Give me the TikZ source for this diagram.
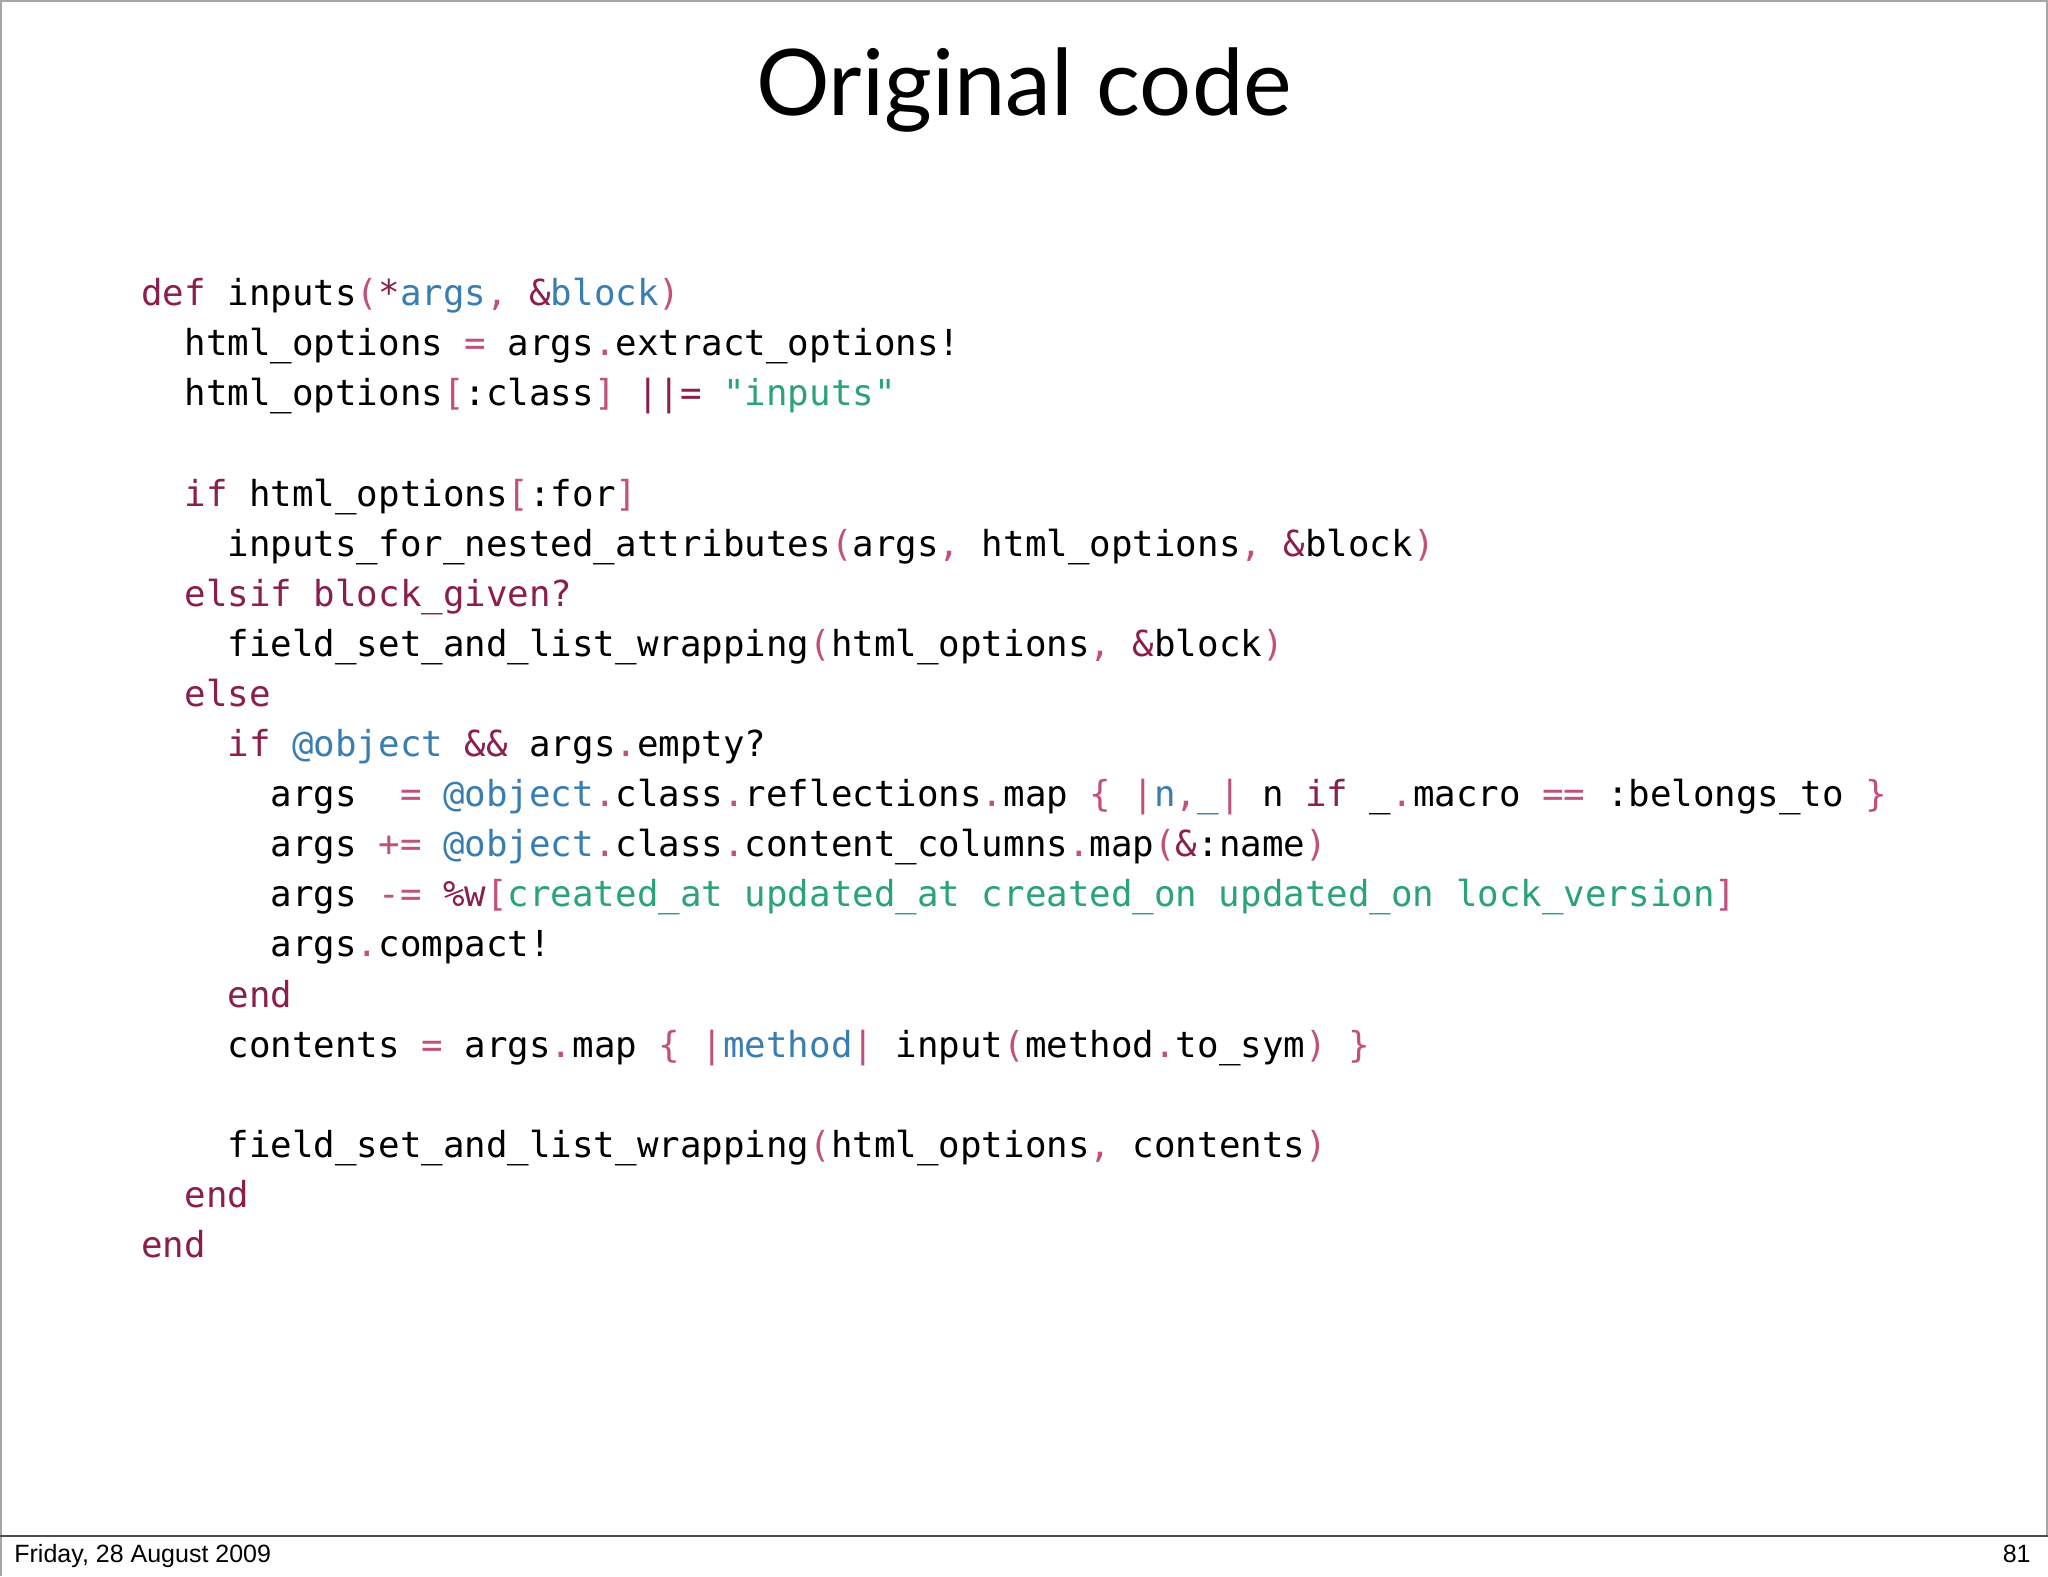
\documentclass[tikz,border=0pt]{standalone}
\usepackage{fontspec}
\newfontfamily\codefont{DejaVu Sans Mono}
\newfontfamily\titlefont{Lato}
\newfontfamily\footfont{Liberation Sans}
\definecolor{kwc}{HTML}{8A1E4C}
\definecolor{puc}{HTML}{C2507C}
\definecolor{vbc}{HTML}{3A7DB0}
\definecolor{sgc}{HTML}{2AA27A}
\newcommand\Kw[1]{\textcolor{kwc}{#1}}
\newcommand\Pu[1]{\textcolor{puc}{#1}}
\newcommand\Vb[1]{\textcolor{vbc}{#1}}
\newcommand\Sg[1]{\textcolor{sgc}{#1}}
\begin{document}
\begin{tikzpicture}[x=0.5pt,y=-0.5pt,
  codeline/.style={anchor=base west,inner sep=0pt,font=\codefont\fontsize{17.9}{20}\selectfont}]
\useasboundingbox (0,0) rectangle (2048,1576);
\draw[gray!70,line width=1pt] (1,1576) -- (1,1536) -- (1,1) -- (2047,1) -- (2047,1536);
\draw[black!70,line width=1pt] (0,1536) -- (2048,1536);
\node[font=\titlefont\fontsize{46}{50}\selectfont,anchor=base,inner sep=0pt] (title) at (1024,115) {Original code};
\node[font=\footfont\fontsize{12.5}{14}\selectfont,anchor=base west,inner sep=0pt] (date) at (14,1562) {Friday, 28 August 2009};
\node[font=\footfont\fontsize{12.5}{14}\selectfont,anchor=base east,inner sep=0pt] (page) at (2031,1562) {81};
\def\cw{21.55}
\def\bx{141}
\def\by{305.6}
\def\ls{50.1}
\newcommand\cl[4]{\node[codeline] (#1) at ({\bx+#2*\cw},{\by+#3*\ls}) {#4};}
\cl{l0}{0}{0}{\Kw{def} inputs\Pu{(}\Kw{*}\Vb{args}\Pu{,} \Kw{\&}\Vb{block}\Pu{)}}
\cl{l1}{2}{1}{html\_options \Pu{=} args\Pu{.}extract\_options!}
\cl{l2}{2}{2}{html\_options\Pu{[}:class\Pu{]} \Kw{||=} \Sg{"inputs"}}
\cl{l4}{2}{4}{\Kw{if} html\_options\Pu{[}:for\Pu{]}}
\cl{l5}{4}{5}{inputs\_for\_nested\_attributes\Pu{(}args\Pu{,} html\_options\Pu{,} \Kw{\&}block\Pu{)}}
\cl{l6}{2}{6}{\Kw{elsif block\_given?}}
\cl{l7}{4}{7}{field\_set\_and\_list\_wrapping\Pu{(}html\_options\Pu{,} \Kw{\&}block\Pu{)}}
\cl{l8}{2}{8}{\Kw{else}}
\cl{l9}{4}{9}{\Kw{if} \Vb{@object} \Kw{\&\&} args\Pu{.}empty?}
\cl{l10}{6}{10}{args\ \ \Pu{=} \Vb{@object}\Pu{.}class\Pu{.}reflections\Pu{.}map \Pu{\{} \Pu{|}\Vb{n}\Pu{,}\Vb{\_}\Pu{|} n \Kw{if} \_\Pu{.}macro \Pu{==} :belongs\_to \Pu{\}}}
\cl{l11}{6}{11}{args \Pu{+=} \Vb{@object}\Pu{.}class\Pu{.}content\_columns\Pu{.}map\Pu{(}\Kw{\&}:name\Pu{)}}
\cl{l12}{6}{12}{args \Pu{-=} \Kw{\%w}\Pu{[}\Sg{created\_at updated\_at created\_on updated\_on lock\_version}\Pu{]}}
\cl{l13}{6}{13}{args\Pu{.}compact!}
\cl{l14}{4}{14}{\Kw{end}}
\cl{l15}{4}{15}{contents \Pu{=} args\Pu{.}map \Pu{\{} \Pu{|}\Vb{method}\Pu{|} input\Pu{(}method\Pu{.}to\_sym\Pu{)} \Pu{\}}}
\cl{l17}{4}{17}{field\_set\_and\_list\_wrapping\Pu{(}html\_options\Pu{,} contents\Pu{)}}
\cl{l18}{2}{18}{\Kw{end}}
\cl{l19}{0}{19}{\Kw{end}}
\end{tikzpicture}
\end{document}
